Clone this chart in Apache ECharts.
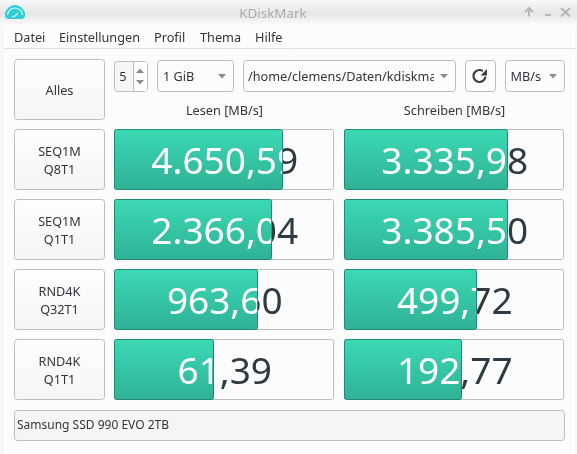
<!DOCTYPE html>
<html>
<head>
<meta charset="utf-8">
<style>html,body{margin:0;padding:0;background:#fcfcfc}#chart{width:577px;height:454px}</style>
<script src="https://cdn.jsdelivr.net/npm/echarts@6/dist/echarts.min.js"></script>
</head>
<body>
<div id="chart"></div>
<script>
const tests = ['SEQ1M\nQ8T1', 'SEQ1M\nQ1T1', 'RND4K\nQ32T1', 'RND4K\nQ1T1']
const readValues = [4650.59, 2366.04, 963.6, 61.39]
const writeValues = [3335.98, 3385.5, 499.72, 192.77]
const menuItems = ['Datei', 'Einstellungen', 'Profil', 'Thema', 'Hilfe']
const menuX = [14, 59, 154, 200, 255]
const headers = ['Lesen [MB/s]', 'Schreiben [MB/s]']

const FONT = '"Noto Sans", sans-serif'
const TEXT = '#31363b'
const VALUE_TEXT = '#2f3b42'
const BORDER = '#bcbebf'
const CTRL = '#b4b6b7'

function fmt(v) {
  return v.toLocaleString('de-DE', { minimumFractionDigits: 2, maximumFractionDigits: 2 })
}

// one meter: frame, gradient fill up to the value, text white over the fill and dark beyond it
function renderMeter(params, api) {
  const value = api.value(0)
  const pt = api.coord([value, api.value(1)])
  const cs = params.coordSys
  const top = pt[1] - 29.5
  const end = Math.floor(pt[0]) + 0.5
  const left = cs.x + 0.5
  const label = (fill, x, w) => ({
    type: 'group',
    clipPath: { type: 'rect', shape: { x, y: top, width: w, height: 60 } },
    children: [{
      type: 'text',
      style: {
        x: cs.x + cs.width / 2 + 0.75, y: pt[1] + 4, text: fmt(value), fill,
        font: '37px ' + FONT, align: 'center', verticalAlign: 'middle'
      }
    }]
  })
  return {
    type: 'group',
    children: [
      {
        type: 'rect',
        shape: { x: left, y: top, width: cs.width - 1, height: 60, r: 2 },
        style: { fill: '#fcfcfc', stroke: BORDER, lineWidth: 1 }
      },
      {
        type: 'rect',
        shape: { x: left, y: top, width: end - left, height: 60, r: 2 },
        style: {
          stroke: '#20897a', lineWidth: 1,
          fill: new echarts.graphic.LinearGradient(0, 0, 0, 1, [
            { offset: 0, color: '#3bdab4' }, { offset: 1, color: '#2fb195' }
          ])
        }
      },
      label('#ffffff', cs.x, end - cs.x),
      label(VALUE_TEXT, end, cs.x + cs.width - end)
    ]
  }
}

function box(x, y, w, h, fill) {
  return {
    type: 'rect', silent: true,
    shape: { x: x + 0.5, y: y + 0.5, width: w, height: h, r: 3 },
    style: { fill: fill || '#fcfcfc', stroke: BORDER, lineWidth: 1 }
  }
}
function btnFill() {
  return new echarts.graphic.LinearGradient(0, 0, 0, 1, [
    { offset: 0, color: '#fefefe' }, { offset: 1, color: '#f5f5f5' }
  ])
}
function txt(x, y, text, opt) {
  return {
    type: 'text', silent: true, z: 5,
    style: Object.assign({
      x, y, text, fill: TEXT, font: '12.7px ' + FONT,
      align: 'left', verticalAlign: 'middle', lineHeight: 18
    }, opt || {})
  }
}
function tri(cx, cy, up) {
  const s = up ? -1 : 1
  return {
    type: 'polygon', silent: true, z: 6,
    shape: { points: [[cx - 4, cy - 2 * s], [cx + 4, cy - 2 * s], [cx, cy + 2.5 * s]] },
    style: { fill: '#8a8d8f' }
  }
}
function stroke(points, color, w) {
  return {
    type: 'polyline', silent: true, z: 5,
    shape: { points },
    style: { stroke: color, lineWidth: w, fill: 'none' }
  }
}

const chrome = [
  { type: 'rect', silent: true, shape: { x: 0, y: 25, width: 4, height: 429 }, style: { fill: '#f7f7f7' } },
  { type: 'rect', silent: true, shape: { x: 575, y: 25, width: 2, height: 429 }, style: { fill: '#f7f7f7' } },
  { type: 'rect', silent: true, shape: { x: 0, y: 0, width: 577, height: 25 },
    style: { fill: new echarts.graphic.LinearGradient(0, 0, 0, 1, [
      { offset: 0, color: '#f8f8f8' }, { offset: 0.55, color: '#e6e6e6' }, { offset: 1, color: '#fbfbfb' }
    ]) } },
  { type: 'line', silent: true, shape: { x1: 4, y1: 48.5, x2: 575, y2: 48.5 }, style: { stroke: '#dfe0e1' } },

  // window icon
  { type: 'rect', silent: true, z: 4, shape: { x: 5, y: 12, width: 20, height: 7, r: [0, 0, 4, 4] }, style: { fill: '#2fcfd6' } },
  { type: 'sector', silent: true, z: 4, shape: { cx: 15, cy: 15, r: 10, r0: 0, startAngle: Math.PI, endAngle: Math.PI * 2 }, style: { fill: '#2fcfd6' } },
  { type: 'arc', silent: true, z: 5, shape: { cx: 15, cy: 15.5, r: 7.5, startAngle: Math.PI * 1.02, endAngle: Math.PI * 1.98 }, style: { stroke: '#e8fafa', lineWidth: 1.2, fill: 'none' } },
  stroke([[12, 17], [15, 16], [18, 13]], '#e8fafa', 1.2),

  txt(273, 14, 'KDiskMark', { align: 'center', fill: '#a9abad', font: '13.4px ' + FONT }),
  stroke([[529, 16.5], [529, 8.5]], CTRL, 2),
  stroke([[525, 12], [529, 8], [533, 12]], CTRL, 2),
  stroke([[545, 15], [551, 15]], CTRL, 2),
  stroke([[561, 8], [570, 16.5]], CTRL, 2),
  stroke([[570, 8], [561, 16.5]], CTRL, 2),

  ...menuItems.map((m, i) => txt(menuX[i], 38, m)),

  box(14, 59, 90, 60, btnFill()),
  txt(59.5, 91, 'Alles', { align: 'center' }),
  box(114, 61, 33, 30, '#f6f6f6'),
  { type: 'rect', silent: true, shape: { x: 134, y: 62, width: 13, height: 29 }, style: { fill: '#fcfcfc' } },
  { type: 'line', silent: true, shape: { x1: 133.5, y1: 61, x2: 133.5, y2: 91 }, style: { stroke: BORDER } },
  txt(123, 77, '5', { align: 'center' }),
  tri(140, 71, true), tri(140, 82, false),
  box(157, 60, 76, 31),
  txt(163, 77, '1 GiB'),
  tri(222, 76, false),
  box(243, 60, 212, 31),
  txt(248, 77, '/home/clemens/Daten/kdiskmark'),
  // the combo box cuts the long path off
  { type: 'rect', silent: true, z: 5, shape: { x: 434, y: 62, width: 20, height: 27 }, style: { fill: '#fcfcfc' } },
  tri(444, 76, false),
  box(465, 60, 30, 31),
  { type: 'arc', silent: true, z: 5, shape: { cx: 479.5, cy: 76, r: 6, startAngle: 0.1, endAngle: 5.3 },
    style: { stroke: '#3a3f43', lineWidth: 2.2, fill: 'none' } },
  { type: 'polygon', silent: true, z: 5, shape: { points: [[487, 69], [487, 75.5], [480.5, 75.5]] }, style: { fill: '#3a3f43' } },
  box(505, 60, 59, 31),
  txt(510.5, 77, 'MB/s'),
  tri(553, 76, false),
  txt(224.5, 111, headers[0], { align: 'center' }),
  txt(454.5, 111, headers[1], { align: 'center' }),

  ...tests.flatMap((t, i) => [
    box(14, 129 + i * 70, 90, 60, btnFill()),
    txt(59.5, 161 + i * 70, t, { align: 'center' })
  ]),

  box(14, 410, 550, 30, '#f5f5f5'),
  txt(17, 426, 'Samsung SSD 990 EVO 2TB', { font: '12px ' + FONT })
]

const grids = [
  { left: 114, top: 124, width: 220, height: 280 },
  { left: 344, top: 124, width: 220, height: 280 }
]
const columns = [readValues, writeValues]

const option = {
  animation: false,
  backgroundColor: '#fcfcfc',
  textStyle: { fontFamily: FONT },
  graphic: { elements: chrome },
  grid: grids,
  xAxis: grids.map((g, i) => ({
    type: 'log', gridIndex: i, min: 0.118, max: 118000, show: false
  })),
  yAxis: grids.map((g, i) => ({
    type: 'category', gridIndex: i, data: tests, inverse: true, show: false
  })),
  series: columns.map((values, i) => ({
    type: 'custom', xAxisIndex: i, yAxisIndex: i, silent: true,
    clip: false,
    encode: { x: 0, y: 1 },
    data: values.map((v, k) => [v, k]),
    renderItem: renderMeter
  }))
}

const chart = echarts.init(document.getElementById('chart'), null, { renderer: 'canvas' })
chart.setOption(option)
</script>
</body>
</html>
